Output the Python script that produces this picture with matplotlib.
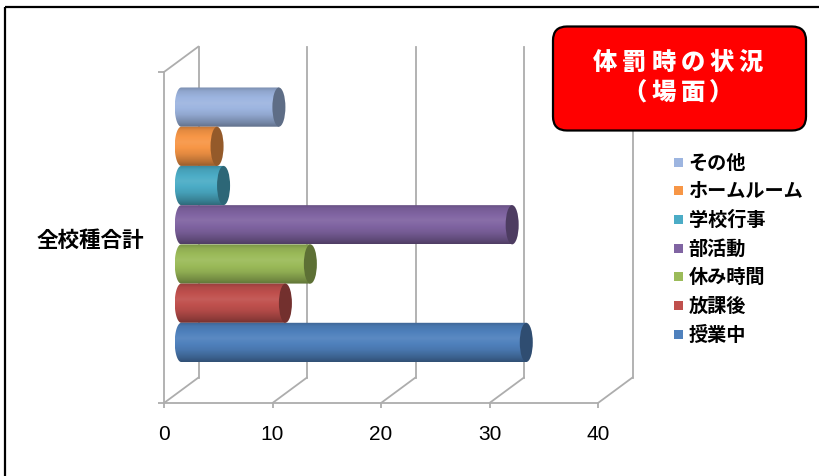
import numpy as np
import matplotlib
matplotlib.use("Agg")
import matplotlib.pyplot as plt
import matplotlib.transforms as mtransforms
from matplotlib.patches import Polygon, Ellipse, FancyBboxPatch, Rectangle, ConnectionPatch
from matplotlib.colors import to_rgb

plt.rcParams['font.family'] = ['Noto Sans CJK JP', 'DejaVu Sans']

# ---- data ----
category = "全校種合計"
series = ["授業中", "放課後", "休み時間", "部活動", "学校行事", "ホームルーム", "その他"]
values = [31.8, 9.6, 11.9, 30.5, 3.9, 3.3, 9.0]
colors = ["#4F81BD", "#C0504D", "#9BBB59", "#8064A2", "#4BACC6", "#F79646", "#9DB5E0"]
xticks = [0, 10, 20, 30, 40]
title_lines = ["体罰時の状況", "（場面）"]

W, H, DPI = 819, 477, 100
fig = plt.figure(figsize=(W / DPI, H / DPI), dpi=DPI)
fig.patch.set_facecolor("white")


def px_rect(x0, y0, x1, y1):
    """Pixel box (top-left origin) -> figure-fraction rect."""
    return [x0 / W, 1 - y1 / H, (x1 - x0) / W, (y1 - y0) / H]


# ---- main plot (front plane of the 3-D box) ----
ax = fig.add_axes(px_rect(164, 73, 598, 404))
ax.patch.set_visible(False)
XLIM = (0, 40)
YLIM = (-1.22, 7.22)
ax.set_xlim(*XLIM)
ax.set_ylim(*YLIM)

DX, DY = 34.5, 25.5  # depth offset of the back wall in pixels


def depth(frac):
    return ax.transData + mtransforms.ScaledTranslation(
        DX * frac / DPI, DY * frac / DPI, fig.dpi_scale_trans)


back = depth(1.0)
mid = depth(0.5)

grid_c = "#ADADAD"
glw = 1.3
y0, y1 = YLIM
for xv in xticks:
    ax.plot([xv, xv], [y0, y1], color=grid_c, lw=glw, transform=back,
            clip_on=False, zorder=1)
    ax.add_artist(ConnectionPatch((xv, y0), (xv, y0), coordsA=ax.transData,
                                  coordsB=back, color=grid_c, lw=glw,
                                  clip_on=False, zorder=1))
ax.add_artist(ConnectionPatch((0, y1), (0, y1), coordsA=ax.transData,
                              coordsB=back, color=grid_c, lw=glw,
                              clip_on=False, zorder=1))

for side in ["top", "right"]:
    ax.spines[side].set_visible(False)
for side in ["bottom", "left"]:
    ax.spines[side].set_color(grid_c)
    ax.spines[side].set_linewidth(glw)

ax.set_xticks(xticks)
ax.set_xticklabels([str(v) for v in xticks], family="Liberation Sans",
                   fontsize=15)
ax.tick_params(axis="x", direction="out", length=3.8, width=glw,
               color=grid_c, pad=11)
ax.set_yticks([y0, y1], minor=True)
ax.set_yticks([(y0 + y1) / 2])
ax.set_yticklabels([category], fontsize=15.5, fontweight="bold")
ax.tick_params(axis="y", which="major", length=0, pad=14)
ax.tick_params(axis="y", which="minor", length=4.3, width=glw, color=grid_c)


def shade(c, n=80):
    base = np.array(to_rgb(c))
    s = np.linspace(0, 1, n)
    f = np.interp(s, [0, 0.1, 0.4, 0.7, 0.9, 1.0],
                  [0.78, 0.92, 1.07, 0.92, 0.74, 0.62])
    out = np.empty((n, 1, 3))
    for k, fk in enumerate(f):
        if fk >= 1:
            out[k, 0] = base + (1 - base) * (fk - 1)
        else:
            out[k, 0] = base * fk
    return np.clip(out, 0, 1)


# cylinders
h = 1.0
rx, ry = 0.6, h / 2
t = np.linspace(np.pi / 2, 3 * np.pi / 2, 50)
for i in range(len(series) - 1, -1, -1):
    v, c = values[i], colors[i]
    yc = i
    arc = np.column_stack([rx * np.cos(t), yc + ry * np.sin(t)])
    pts = np.vstack([[v, yc + ry], arc, [v, yc - ry]])
    body = Polygon(pts, closed=True, transform=mid, facecolor="none",
                   edgecolor="none")
    ax.add_patch(body)
    im = ax.imshow(shade(c), extent=(-rx, v, yc - ry, yc + ry),
                   aspect="auto", interpolation="bilinear", origin="upper",
                   zorder=3)
    im.set_transform(mid)
    im.set_clip_path(body)
    dark = np.array(to_rgb(c)) * 0.6
    cap = Ellipse((v, yc), 2 * rx, 2 * ry, transform=mid, facecolor=dark,
                  edgecolor="none", zorder=4)
    ax.add_patch(cap)

ax.set_xlim(*XLIM)
ax.set_ylim(*YLIM)

# ---- overlay: frame, title box, legend (pixel coordinates) ----
ov = fig.add_axes([0, 0, 1, 1])
ov.set_xlim(0, W)
ov.set_ylim(H, 0)
ov.axis("off")
ov.patch.set_visible(False)

ov.add_patch(Rectangle((4.5, 7.5), W + 20, H + 20, fill=False,
                       edgecolor="black", lw=1.6))

ov.add_patch(FancyBboxPatch((553, 27.5), 253, 104,
                            boxstyle="round,pad=0,rounding_size=14",
                            facecolor="#FF0000", edgecolor="black", lw=1.6))
title_cx, title_step = 678, 29
for line, ty in zip(title_lines, [62.5, 93]):
    n = len(line)
    for k, ch in enumerate(line):
        ov.text(title_cx + (k - (n - 1) / 2) * title_step, ty, ch,
                ha="center", va="center", color="white", fontsize=17.5,
                fontweight="heavy")

leg_top, leg_step = 163, 28.7
for k, idx in enumerate(range(len(series) - 1, -1, -1)):
    yy = leg_top + k * leg_step
    ov.add_patch(Rectangle((673.5, yy - 4.5), 9, 9, facecolor=colors[idx],
                           edgecolor="none"))
    ov.text(688.5, yy, series[idx], ha="left", va="center", fontsize=13.8,
            fontweight="bold", color="black")

fig.savefig("out.png", dpi=DPI)
